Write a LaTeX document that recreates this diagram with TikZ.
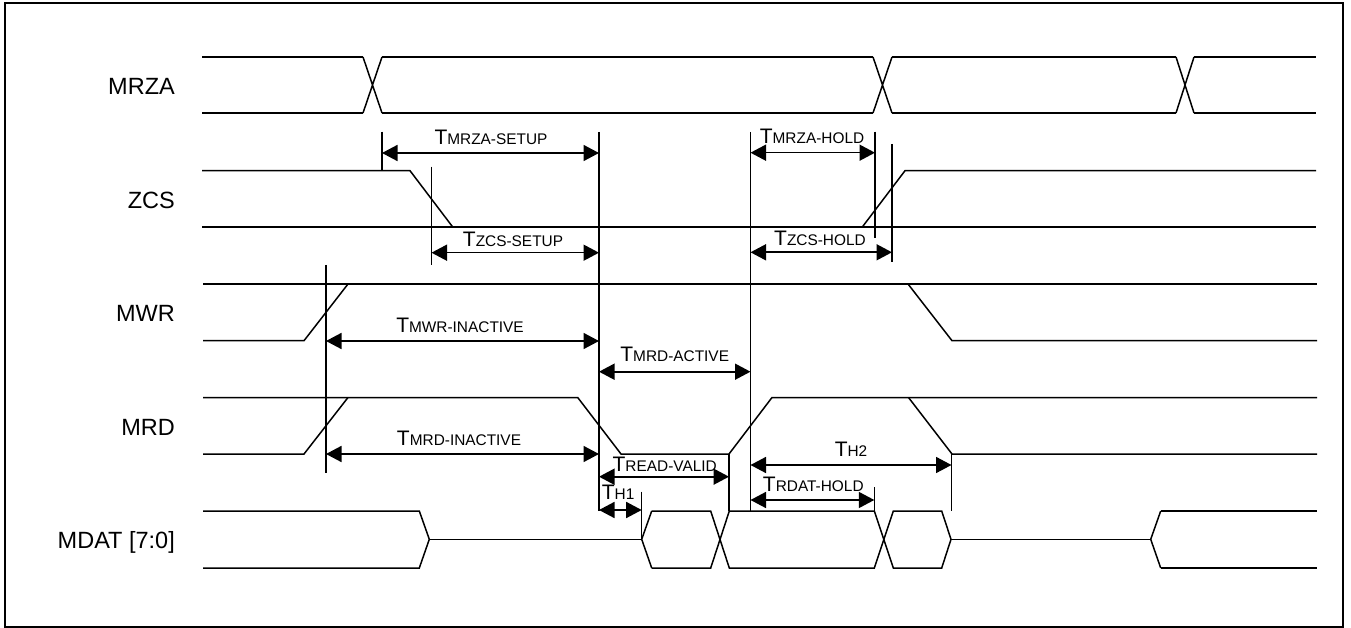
\documentclass[tikz,border=0pt]{standalone}
\usepackage{fontspec}
\setmainfont{Liberation Sans}
\usetikzlibrary{arrows.meta}
\newcommand{\Tsub}[1]{{\fontsize{21}{21}\selectfont T}{\fontsize{15.4}{15.4}\selectfont #1}}
\tikzset{
  sig/.style={line width=1.5pt},
  marker/.style={line width=1.4pt},
  dimline/.style={line width=1.6pt,{Triangle[length=15.5pt,width=16pt]}-{Triangle[length=15.5pt,width=16pt]}},
  dimlab/.style={anchor=base,inner sep=0pt},
  siglab/.style={anchor=base east,inner sep=0pt,font=\fontsize{23.5}{23.5}\selectfont},
  frame/.style={line width=2pt}
}
\begin{document}
\begin{tikzpicture}[x=1pt,y=-1pt]
\useasboundingbox (0,0) rectangle (1351,628);
\draw[frame] (5,3) rectangle (1343,627);

% signal labels
\node[siglab] (lMRZA) at (175,94.3) {MRZA};
\node[siglab] (lZCS) at (175,208.3) {ZCS};
\node[siglab] (lMWR) at (175,321.7) {MWR};
\node[siglab] (lMRD) at (175,435) {MRD};
\node[siglab] (lMDAT) at (175,548.3) {MDAT [7:0]};

% MRZA bus
\draw[sig] (202,57) -- (363,57) (382,57) -- (873,57) (892,57) -- (1176,57) (1194,57) -- (1316,57);
\draw[sig] (202,113) -- (363,113) (382,113) -- (873,113) (892,113) -- (1176,113) (1194,113) -- (1316,113);
\draw[sig] (363,57) -- (382,113) (363,113) -- (382,57);
\draw[sig] (873,57) -- (892,113) (873,113) -- (892,57);
\draw[sig] (1176,57) -- (1194,113) (1176,113) -- (1194,57);

% ZCS
\draw[sig] (202,170.7) -- (410,170.7) -- (452.7,227) ;
\draw[sig] (202,227) -- (1316,227);
\draw[sig] (862.3,227) -- (905,170.7) -- (1316,170.7);

% MWR
\draw[sig] (203,284) -- (1317,284);
\draw[sig] (203,340.7) -- (304,340.7) -- (348,284);
\draw[sig] (908,284) -- (952,340.7) -- (1317,340.7);

% MRD
\draw[sig] (203,454) -- (304,454) -- (348,397.5);
\draw[sig] (203,397.5) -- (577.7,397.5) -- (621,454) -- (729,454) -- (772,397.5) -- (1317,397.5);
\draw[sig] (908.5,397.5) -- (952,454) -- (1317,454);

% MDAT
\draw[sig] (203,511) -- (419.3,511) -- (429.3,539.3) -- (419.3,568) -- (203,568);
\draw[sig] (429.3,539.3) -- (641.7,539.3);
\draw[sig] (651.7,511) -- (641.7,539.3) -- (651.7,568);
\draw[sig] (651.7,511) -- (710.7,511) -- (729.3,568) -- (874.3,568) -- (893.3,511) -- (941.7,511) -- (951,539.3);
\draw[sig] (651.7,568) -- (710.7,568) -- (729.3,511) -- (874.3,511) -- (893.3,568) -- (941.7,568) -- (951,539.3);
\draw[sig] (951,539.3) -- (1150.7,539.3);
\draw[sig] (1160.7,511) -- (1150.7,539.3) -- (1160.7,568);
\draw[sig] (1160.7,511) -- (1317,511) (1160.7,568) -- (1317,568);

% timing markers
\coordinate (v1t) at (382,131.7);   \coordinate (v1b) at (382,170.7);
\coordinate (v2t) at (431.5,166.7); \coordinate (v2b) at (431.5,265);
\coordinate (v3t) at (326,265);     \coordinate (v3b) at (326,473.3);
\coordinate (v4t) at (599,132);     \coordinate (v4b) at (599,510.7);
\coordinate (v5t) at (750.5,132);   \coordinate (v5b) at (750.5,510.7);
\coordinate (v6t) at (875,131.7);   \coordinate (v6b) at (875,238.3);
\coordinate (v7t) at (892,144);     \coordinate (v7b) at (892,261.7);
\coordinate (v8t) at (641.7,491.7); \coordinate (v8b) at (641.7,539.3);
\coordinate (v9t) at (729,454);     \coordinate (v9b) at (729,511);
\coordinate (v10t) at (951.5,454);  \coordinate (v10b) at (951.5,511);
\coordinate (v11t) at (874.3,487.3);\coordinate (v11b) at (874.3,511);
\foreach \v in {1,...,11} \draw[marker] (v\v t) -- (v\v b);

% dimension arrows
\draw[dimline] (382,153) -- (599,153);
\node[dimlab] (tMS) at (491,144.3) {\Tsub{MRZA-SETUP}};
\draw[dimline] (431.5,252.7) -- (599,252.7);
\node[dimlab] (tZS) at (513,246.7) {\Tsub{ZCS-SETUP}};
\draw[dimline] (750.5,152.7) -- (875,152.7);
\node[dimlab] (tMH) at (812,143.3) {\Tsub{MRZA-HOLD}};
\draw[dimline] (750.5,252.3) -- (892,252.3);
\node[dimlab] (tZH) at (820,245.7) {\Tsub{ZCS-HOLD}};
\draw[dimline] (326,341) -- (599,341);
\node[dimlab] (tWI) at (460,332.3) {\Tsub{MWR-INACTIVE}};
\draw[dimline] (326,454) -- (599,454);
\node[dimlab] (tRI) at (459,445.7) {\Tsub{MRD-INACTIVE}};
\draw[dimline] (599,371.7) -- (750.5,371.7);
\node[dimlab] (tRA) at (674.7,361.7) {\Tsub{MRD-ACTIVE}};
\draw[dimline] (599,476.7) -- (729,476.7);
\node[dimlab] (tRV) at (664.7,471) {\Tsub{READ-VALID}};
\draw[dimline] (599,510) -- (641.7,510);
\node[dimlab,anchor=base west] (tH1) at (601.7,499.3) {\Tsub{H1}};
\draw[dimline] (750.5,465) -- (951.5,465);
\node[dimlab] (tH2) at (851,456.7) {\Tsub{H2}};
\draw[dimline] (750.5,500) -- (874.3,500);
\node[dimlab] (tRH) at (813.3,491) {\Tsub{RDAT-HOLD}};
\end{tikzpicture}
\end{document}
